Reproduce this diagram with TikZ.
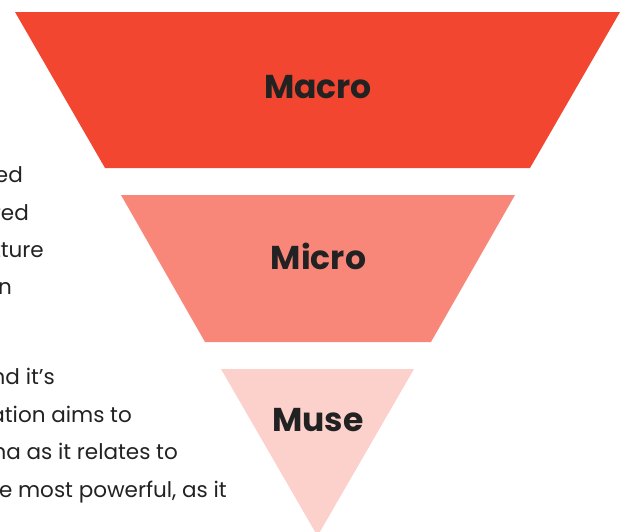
\documentclass[tikz,border=0pt]{standalone}
\usepackage{fontspec}
\setmainfont{Poppins}
\definecolor{macrored}{HTML}{F24630}
\definecolor{microred}{HTML}{F8877A}
\definecolor{musepink}{HTML}{FCD0CB}
\definecolor{inkgray}{HTML}{222222}
\tikzset{
  band/.style={draw=none},
  bandlabel/.style={anchor=base,inner sep=0pt,text=inkgray,font=\fontsize{33}{38}\selectfont\bfseries},
  bodyline/.style={anchor=base east,inner sep=0pt,text=inkgray,font=\fontsize{21.5}{25}\selectfont}
}
\begin{document}
\begin{tikzpicture}[x=1pt,y=-1pt]
  \useasboundingbox (0,0) rectangle (626,531);
  \clip (0,0) rectangle (626,531);
  % funnel bands
  \fill[band,macrored] (15,12) -- (620,12) -- (530,168) -- (105,168) -- cycle;
  \fill[band,microred] (121,195) -- (515,195) -- (431,342) -- (205,342) -- cycle;
  \fill[band,musepink] (221,369) -- (414,369) -- (317.5,536) -- cycle;
  \path
    (318,98) node[bandlabel] (macro){Macro}
    (318.5,269) node[bandlabel] (micro){Micro}
    (318,431) node[bandlabel] (muse){Muse};
  % copy running off the left edge
  \path
    (23,182) node[bodyline] (l1){ed}
    (29,220) node[bodyline] (l2){red}
    (44,257) node[bodyline] (l3){tture}
    (12,294) node[bodyline] (l4){n}
    (55,384) node[bodyline] (l5){nd it’s}
    (132,422) node[bodyline] (l6){ation aims to}
    (178,459) node[bodyline] (l7){na as it relates to}
    (227,497) node[bodyline] (l8){e most powerful, as it};
\end{tikzpicture}
\end{document}
